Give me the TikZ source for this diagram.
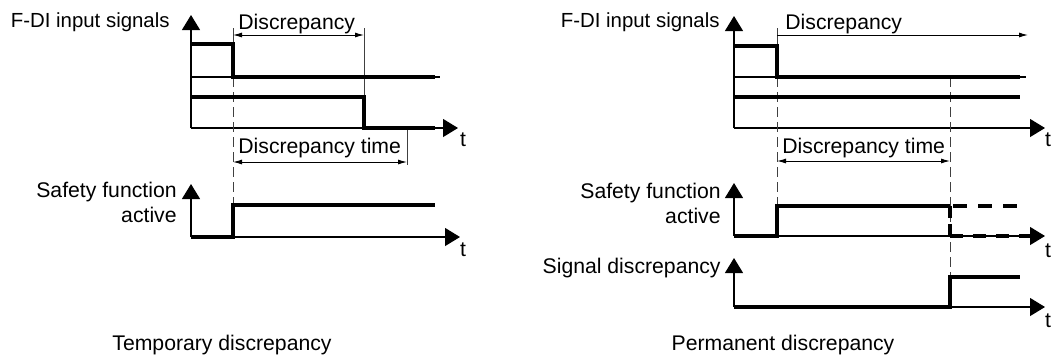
\documentclass[tikz,border=0pt]{standalone}
\usepackage{fontspec}
\setmainfont{Liberation Sans}
\usepackage{tikz}
\usetikzlibrary{arrows.meta}

\begin{document}
\begin{tikzpicture}[x=0.5pt, y=-0.5pt,
  axis/.style={line width=0.6pt, -{Triangle[length=7.5pt,width=9pt]}},
  sig/.style={line width=1.6pt},
  sigdash/.style={line width=1.6pt, dash pattern=on 6.5pt off 5pt},
  guide/.style={line width=0.5pt, black!75, dash pattern=on 5pt off 2.5pt},
  tick/.style={line width=0.5pt, black!75},
  dim/.style={line width=0.5pt, {Latex[length=4.5pt,width=2.5pt]}-{Latex[length=4.5pt,width=2.5pt]}},
  dimr/.style={line width=0.5pt, -{Latex[length=4.5pt,width=2.5pt]}},
  lbl/.style={inner sep=0pt, font=\fontsize{10.6}{12.5}\selectfont},
  axlbl/.style={lbl, font=\fontsize{10.2}{12.5}\selectfont}
]
\useasboundingbox (0,0) rectangle (1060,355);

% left: temporary discrepancy
\coordinate (L0) at (191,128);   \coordinate (Ltop) at (191,15);  \coordinate (Lend) at (458,128);
\coordinate (LS0) at (191,237);  \coordinate (LStop) at (191,184); \coordinate (LSend) at (460,237);
\draw[axis] (L0) -- (Ltop);   \draw[axis] (L0) -- (Lend);
\draw[axis] (LS0) -- (LStop); \draw[axis] (LS0) -- (LSend);
\draw[line width=0.6pt] (191,77) -- (440,77);
\draw[guide] (233,77) -- (233,205);
\draw[tick] (233,28) -- (233,44);  \draw[tick] (364,28) -- (364,97);  \draw[tick] (407,128) -- (407,165);
\draw[dim] (233,35) -- (364,35);
\draw[dim] (233,162) -- (407,162);
\draw[sig] (191,44) -- (233,44) -- (233,77) -- (435,77);
\draw[sig] (191,97) -- (364,97) -- (364,128) -- (435,128);
\draw[sig] (LS0) -- (233,237) -- (233,205) -- (435,205);
\node[axlbl, anchor=base east] (fdiL) at (170,27) {F-DI input signals};
\node[lbl, anchor=base west] (discL) at (238,29) {Discrepancy};
\node[lbl, anchor=base west] (dtL) at (238,153) {Discrepancy time};
\node[lbl, anchor=north east, align=right] (sfL) at (177,181.5) {Safety function\\active};
\node[lbl, anchor=base] (tL1) at (463,146) {t};
\node[lbl, anchor=base] (tL2) at (463,256) {t};
\node[lbl, anchor=base] (capL) at (222,350) {Temporary discrepancy};

% right: permanent discrepancy
\coordinate (R0) at (734,128);   \coordinate (Rtop) at (734,16);  \coordinate (Rend) at (1045,128);
\coordinate (RS0) at (734,236);  \coordinate (RStop) at (734,183); \coordinate (RSend) at (1045,236);
\coordinate (RD0) at (734,307);  \coordinate (RDtop) at (734,258); \coordinate (RDend) at (1045,307);
\draw[axis] (R0) -- (Rtop);   \draw[axis] (R0) -- (Rend);
\draw[axis] (RS0) -- (RStop); \draw[axis] (RS0) -- (RSend);
\draw[axis] (RD0) -- (RDtop); \draw[axis] (RD0) -- (RDend);
\draw[line width=0.6pt] (734,77) -- (1026,77);
\draw[guide] (777,77) -- (777,206);
\draw[guide] (950,77) -- (950,277);
\draw[tick] (777,28) -- (777,46);
\draw[dimr] (777,35) -- (1028,35);
\draw[dim] (777,161) -- (950,161);
\draw[sig] (734,46) -- (777,46) -- (777,77) -- (1020,77);
\draw[sig] (734,97) -- (1020,97);
\draw[sig] (RS0) -- (777,236) -- (777,206) -- (950,206);
\draw[sigdash, dash pattern=on 7pt off 5.5pt] (953,206) -- (1017,206);
\draw[sigdash, dash pattern=on 6pt off 3pt] (950,206) -- (950,236);
\draw[sigdash] (950,236) -- (1030,236);
\draw[sig] (RD0) -- (950,307) -- (950,277) -- (1020,277);
\node[axlbl, anchor=base east] (fdiR) at (720,27) {F-DI input signals};
\node[lbl, anchor=base west] (discR) at (785,29) {Discrepancy};
\node[lbl, anchor=base west] (dtR) at (782,153) {Discrepancy time};
\node[lbl, anchor=north east, align=right] (sfR) at (721,182.5) {Safety function\\active};
\node[lbl, anchor=base east] (sdR) at (721,273) {Signal discrepancy};
\node[lbl, anchor=base] (tR1) at (1048,146) {t};
\node[lbl, anchor=base] (tR2) at (1048,257) {t};
\node[lbl, anchor=base] (tR3) at (1048,327) {t};
\node[lbl, anchor=base] (capR) at (783,350) {Permanent discrepancy};
\end{tikzpicture}
\end{document}
